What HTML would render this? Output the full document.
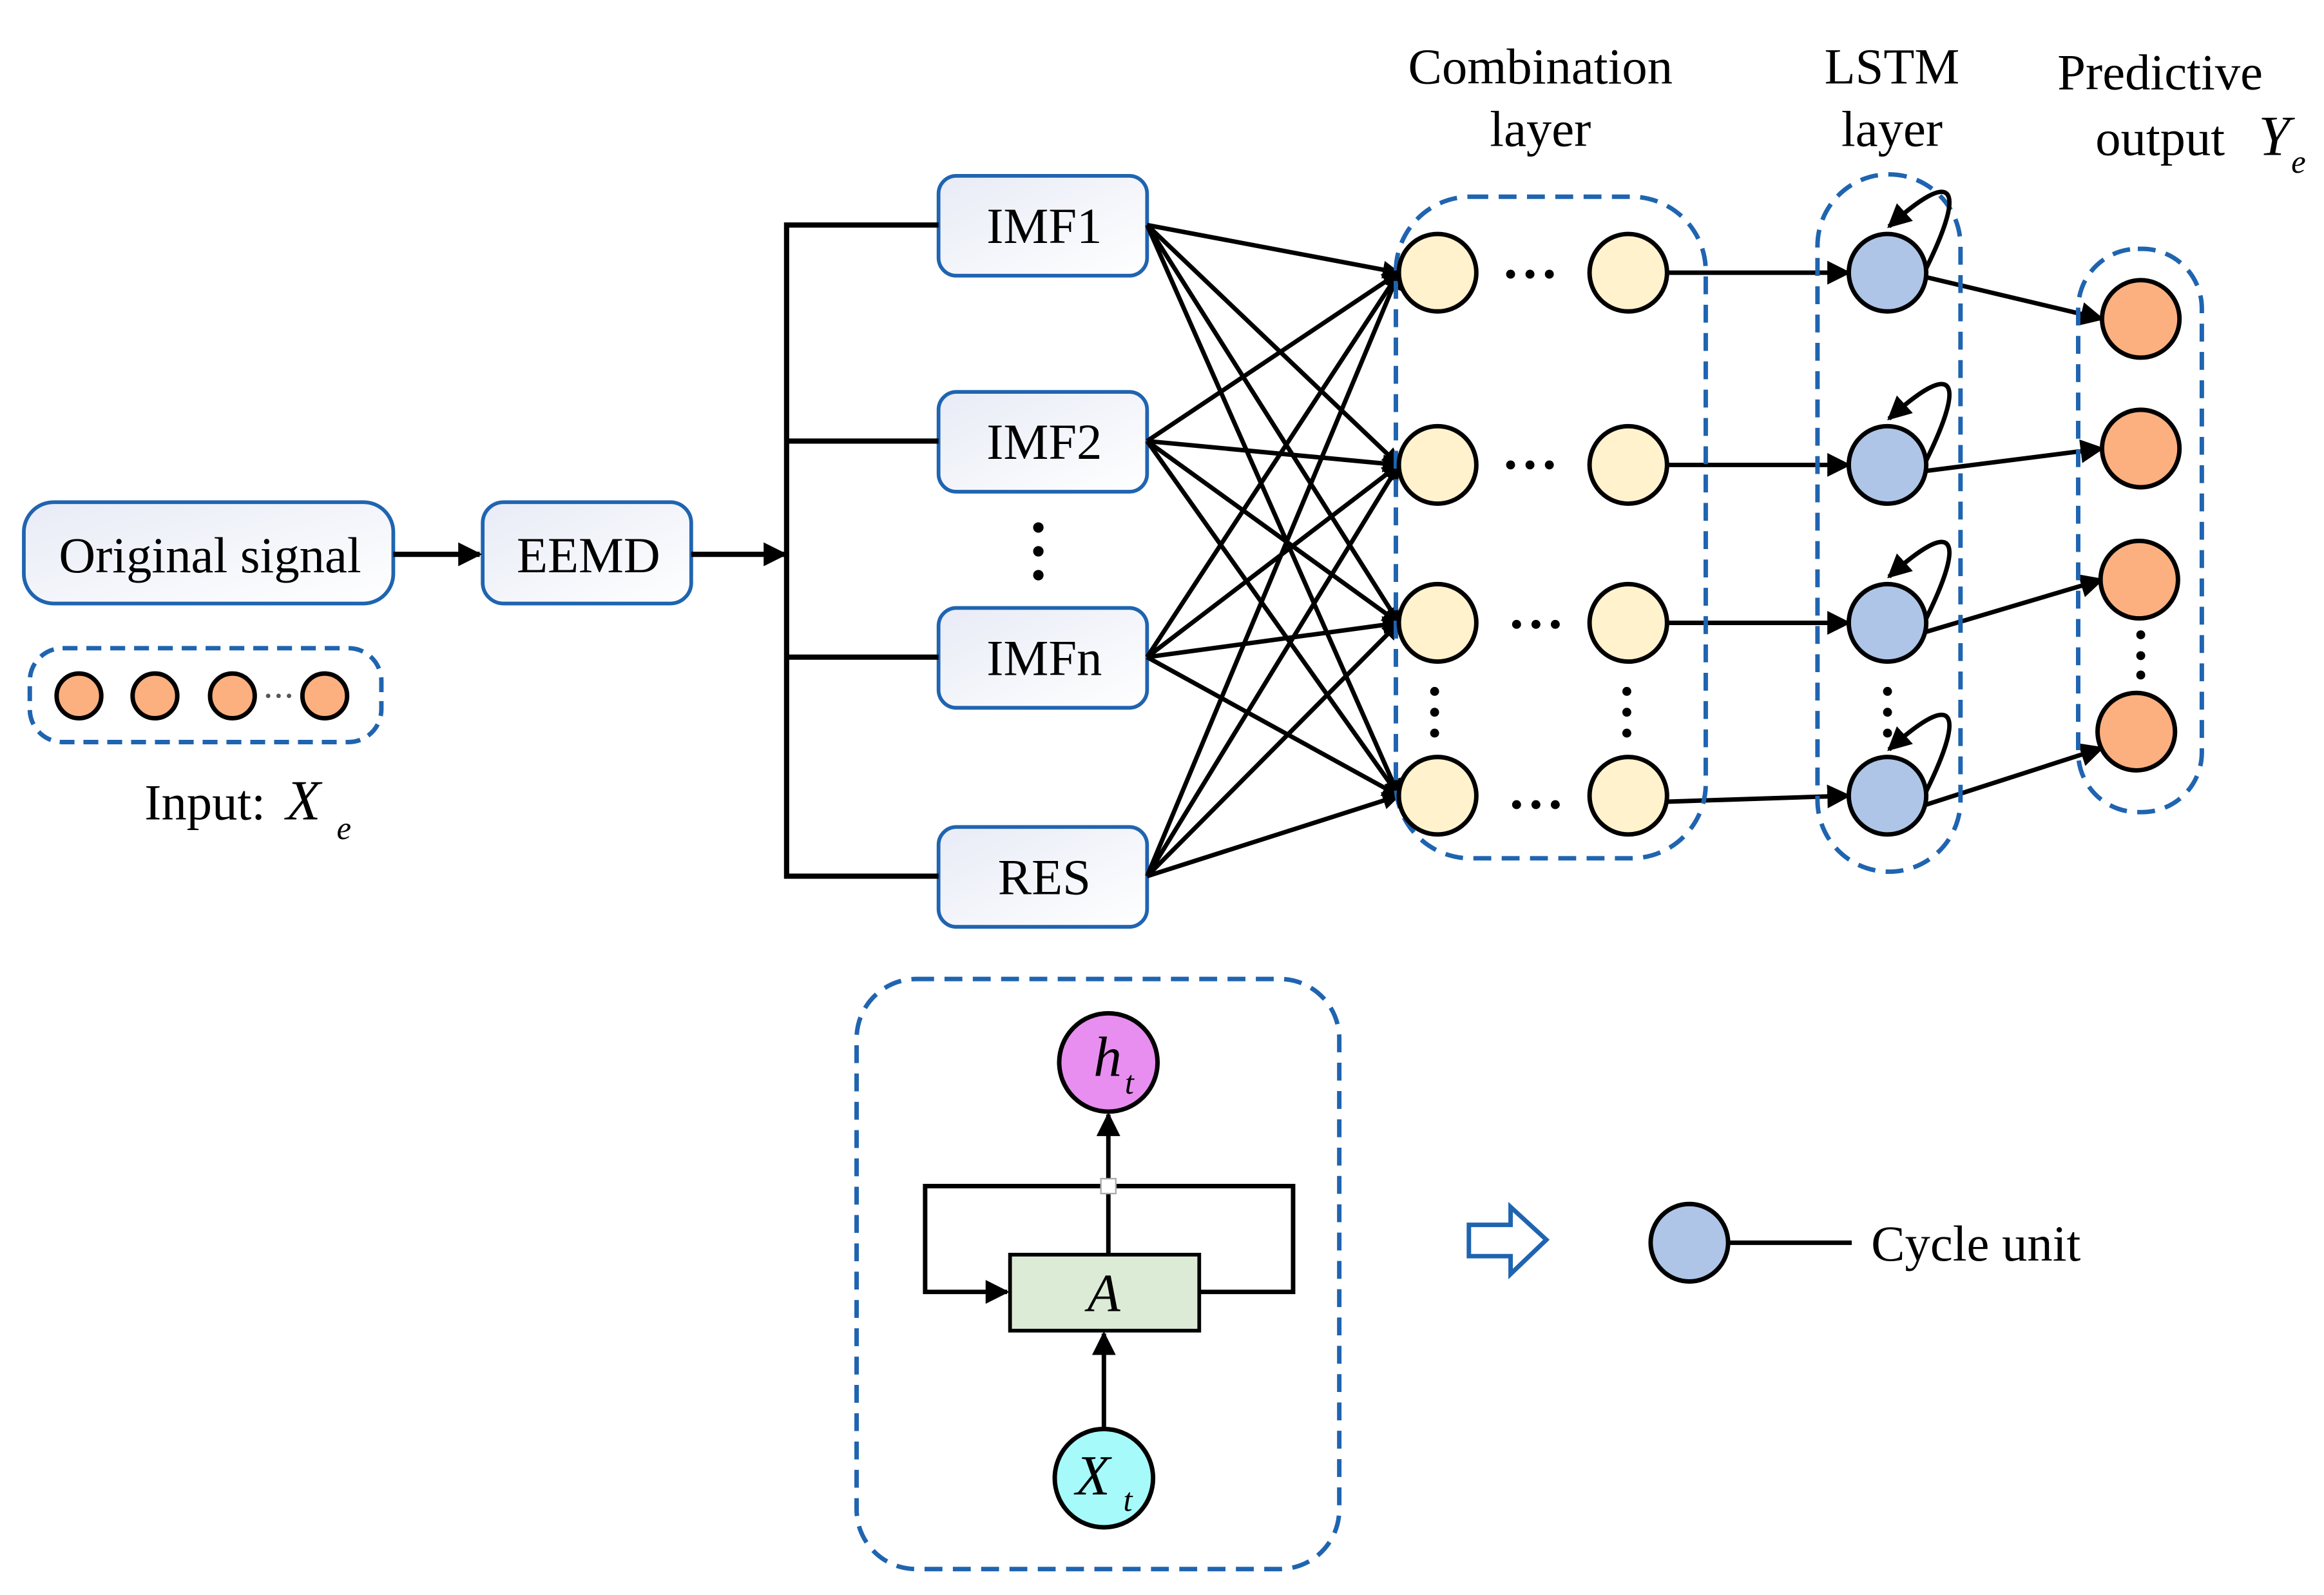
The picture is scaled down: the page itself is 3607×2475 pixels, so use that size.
<!DOCTYPE html>
<html><head><meta charset="utf-8"><style>html,body{margin:0;padding:0;background:#fff}svg{display:block}</style></head><body>
<svg width="3607" height="2475" viewBox="0 0 1560 1070.4" xmlns="http://www.w3.org/2000/svg" font-family="Liberation Serif, serif">
<defs>
<marker id="a" viewBox="0 0 10 10" refX="9" refY="5" markerWidth="12" markerHeight="12" orient="auto" markerUnits="userSpaceOnUse"><path d="M0,0L10,5L0,10z" fill="#000"/></marker>
<marker id="b" viewBox="0 0 10 10" refX="9" refY="5" markerWidth="16" markerHeight="16" orient="auto" markerUnits="userSpaceOnUse"><path d="M0,0L10,5L0,10z" fill="#000"/></marker>
<linearGradient id="g" x1="0" y1="0" x2="1" y2="1"><stop offset="0" stop-color="#e8ebf6"/><stop offset="1" stop-color="#fff"/></linearGradient>
</defs>
<g stroke="#1f64b0" stroke-width="2.5" fill="url(#g)">
<rect x="16" y="337" width="248" height="68" rx="20"/>
<rect x="324" y="337" width="140" height="68" rx="14"/>
<rect x="630" y="118" width="140" height="67" rx="12"/>
<rect x="630" y="263" width="140" height="67" rx="12"/>
<rect x="630" y="408" width="140" height="67" rx="12"/>
<rect x="630" y="555" width="140" height="67" rx="12"/>
</g>
<g font-size="34" text-anchor="middle" fill="#000">
<text x="141" y="384">Original signal</text>
<text x="395" y="384">EEMD</text>
<text x="701" y="163">IMF1</text>
<text x="701" y="308">IMF2</text>
<text x="701" y="453">IMFn</text>
<text x="701" y="600">RES</text>
<text x="1034" y="56">Combination</text>
<text x="1034" y="98">layer</text>
<text x="1270" y="56">LSTM</text>
<text x="1270" y="98">layer</text>
<text x="1450" y="60">Predictive</text>
<text x="1450" y="104">output</text>
</g>
<text x="1516" y="104" font-size="38" font-style="italic">Y</text>
<text x="1538" y="116" font-size="22" font-style="italic">e</text>
<text x="97" y="550" font-size="34">Input:</text>
<text x="192" y="550" font-size="38" font-style="italic">X</text>
<text x="226" y="563" font-size="22" font-style="italic">e</text>
<g stroke="#000" stroke-width="3.5" fill="none">
<line x1="264" y1="372" x2="322" y2="372" marker-end="url(#b)"/>
<line x1="464" y1="372" x2="527" y2="372" marker-end="url(#b)"/>
<path d="M630,151H528V588H630M528,296H630M528,441H630"/>
</g>
<g fill="#000"><circle cx="697" cy="354" r="3.5"/><circle cx="697" cy="370" r="3.5"/><circle cx="697" cy="386" r="3.5"/></g>
<rect x="20" y="435" width="236" height="63" rx="22" fill="none" stroke="#1f64b0" stroke-width="3" stroke-dasharray="10,6"/>
<g fill="#fdb07f" stroke="#000" stroke-width="3"><circle cx="53" cy="467" r="15"/><circle cx="104" cy="467" r="15"/><circle cx="156" cy="467" r="15"/><circle cx="218" cy="467" r="15"/></g>
<g fill="#555"><circle cx="180" cy="467" r="1.5"/><circle cx="187" cy="467" r="1.5"/><circle cx="194" cy="467" r="1.5"/></g>
<g stroke="#000" stroke-width="3" fill="none">
<line x1="770" y1="151" x2="939" y2="183" marker-end="url(#a)"/><line x1="770" y1="151" x2="939" y2="312" marker-end="url(#a)"/><line x1="770" y1="151" x2="939" y2="418" marker-end="url(#a)"/><line x1="770" y1="151" x2="939" y2="534" marker-end="url(#a)"/>
<line x1="770" y1="296" x2="939" y2="183" marker-end="url(#a)"/><line x1="770" y1="296" x2="939" y2="312" marker-end="url(#a)"/><line x1="770" y1="296" x2="939" y2="418" marker-end="url(#a)"/><line x1="770" y1="296" x2="939" y2="534" marker-end="url(#a)"/>
<line x1="770" y1="441" x2="939" y2="183" marker-end="url(#a)"/><line x1="770" y1="441" x2="939" y2="312" marker-end="url(#a)"/><line x1="770" y1="441" x2="939" y2="418" marker-end="url(#a)"/><line x1="770" y1="441" x2="939" y2="534" marker-end="url(#a)"/>
<line x1="770" y1="588" x2="939" y2="183" marker-end="url(#a)"/><line x1="770" y1="588" x2="939" y2="312" marker-end="url(#a)"/><line x1="770" y1="588" x2="939" y2="418" marker-end="url(#a)"/><line x1="770" y1="588" x2="939" y2="534" marker-end="url(#a)"/>
<line x1="1119" y1="183" x2="1241" y2="183" marker-end="url(#b)"/>
<line x1="1119" y1="312" x2="1241" y2="312" marker-end="url(#b)"/>
<line x1="1119" y1="418" x2="1241" y2="418" marker-end="url(#b)"/>
<line x1="1119" y1="538" x2="1241" y2="534" marker-end="url(#b)"/>
<line x1="1293" y1="186" x2="1411" y2="214" marker-end="url(#b)"/>
<line x1="1293" y1="316" x2="1411" y2="301" marker-end="url(#b)"/>
<line x1="1293" y1="424" x2="1411" y2="389" marker-end="url(#b)"/>
<line x1="1293" y1="540" x2="1411" y2="502" marker-end="url(#b)"/>
</g>
<rect x="937" y="132" width="208" height="444" rx="50" fill="none" stroke="#1f64b0" stroke-width="3" stroke-dasharray="12,7"/>
<rect x="1220" y="117" width="96" height="468" rx="48" fill="none" stroke="#1f64b0" stroke-width="3" stroke-dasharray="12,7"/>
<rect x="1395" y="167" width="83" height="378" rx="40" fill="none" stroke="#1f64b0" stroke-width="3" stroke-dasharray="12,7"/>
<g fill="#fff2cc" stroke="#000" stroke-width="3">
<circle cx="965" cy="183" r="26"/><circle cx="1093" cy="183" r="26"/>
<circle cx="965" cy="312" r="26"/><circle cx="1093" cy="312" r="26"/>
<circle cx="965" cy="418" r="26"/><circle cx="1093" cy="418" r="26"/>
<circle cx="965" cy="534" r="26"/><circle cx="1093" cy="534" r="26"/>
</g>
<g fill="#000">
<circle cx="1014" cy="184" r="3"/><circle cx="1027" cy="184" r="3"/><circle cx="1040" cy="184" r="3"/>
<circle cx="1014" cy="312" r="3"/><circle cx="1027" cy="312" r="3"/><circle cx="1040" cy="312" r="3"/>
<circle cx="1018" cy="419" r="3"/><circle cx="1031" cy="419" r="3"/><circle cx="1044" cy="419" r="3"/>
<circle cx="1018" cy="540" r="3"/><circle cx="1031" cy="540" r="3"/><circle cx="1044" cy="540" r="3"/>
<circle cx="963" cy="464" r="3"/><circle cx="963" cy="478" r="3"/><circle cx="963" cy="492" r="3"/>
<circle cx="1092" cy="464" r="3"/><circle cx="1092" cy="478" r="3"/><circle cx="1092" cy="492" r="3"/>
<circle cx="1267" cy="464" r="3"/><circle cx="1267" cy="478" r="3"/><circle cx="1267" cy="492" r="3"/>
<circle cx="1437" cy="426" r="3"/><circle cx="1437" cy="440" r="3"/><circle cx="1437" cy="453" r="3"/>
</g>
<g fill="#aec5e8" stroke="#000" stroke-width="3">
<circle cx="1267" cy="183" r="26"/><circle cx="1267" cy="312" r="26"/><circle cx="1267" cy="418" r="26"/><circle cx="1267" cy="534" r="26"/>
</g>
<g stroke="#000" stroke-width="3" fill="none">
<path d="M1293,180C1320,125 1312,112 1268,152" marker-end="url(#b)"/>
<path d="M1293,309C1320,254 1312,241 1268,281" marker-end="url(#b)"/>
<path d="M1293,415C1320,360 1312,347 1268,387" marker-end="url(#b)"/>
<path d="M1293,531C1320,476 1312,463 1268,503" marker-end="url(#b)"/>
</g>
<g fill="#fdb07f" stroke="#000" stroke-width="3">
<circle cx="1437" cy="214" r="26"/><circle cx="1437" cy="301" r="26"/><circle cx="1436" cy="389" r="26"/><circle cx="1434" cy="491" r="26"/>
</g>
<rect x="575" y="657" width="324" height="396" rx="40" fill="none" stroke="#1f64b0" stroke-width="3" stroke-dasharray="12,7"/>
<g stroke="#000" stroke-width="3" fill="none">
<path d="M805,867H868V796H621V867H676" marker-end="url(#b)"/>
<line x1="741" y1="959" x2="741" y2="895" marker-end="url(#b)"/>
<line x1="744" y1="842" x2="744" y2="748" marker-end="url(#b)"/>
</g>
<rect x="739" y="791" width="10" height="10" fill="#fff" stroke="#aaa" stroke-width="1"/>
<rect x="678" y="842" width="127" height="51" fill="#dcebd5" stroke="#000" stroke-width="2.5"/>
<text x="741" y="880" font-size="36" font-style="italic" text-anchor="middle">A</text>
<circle cx="744" cy="713" r="33" fill="#e88ef0" stroke="#000" stroke-width="3"/>
<text x="734" y="722" font-size="38" font-style="italic">h</text><text x="755" y="734" font-size="22" font-style="italic">t</text>
<circle cx="741" cy="992" r="33" fill="#a6fafa" stroke="#000" stroke-width="3"/>
<text x="722" y="1003" font-size="38" font-style="italic">X</text><text x="754" y="1014" font-size="22" font-style="italic">t</text>
<path d="M986,822H1014V810L1038,832L1014,855V843H986Z" fill="#fff" stroke="#1f64b0" stroke-width="3"/>
<line x1="1160" y1="834" x2="1243" y2="834" stroke="#000" stroke-width="3"/>
<circle cx="1134" cy="834" r="26" fill="#aec5e8" stroke="#000" stroke-width="3"/>
<text x="1256" y="846" font-size="34">Cycle unit</text>
</svg>
</body></html>
